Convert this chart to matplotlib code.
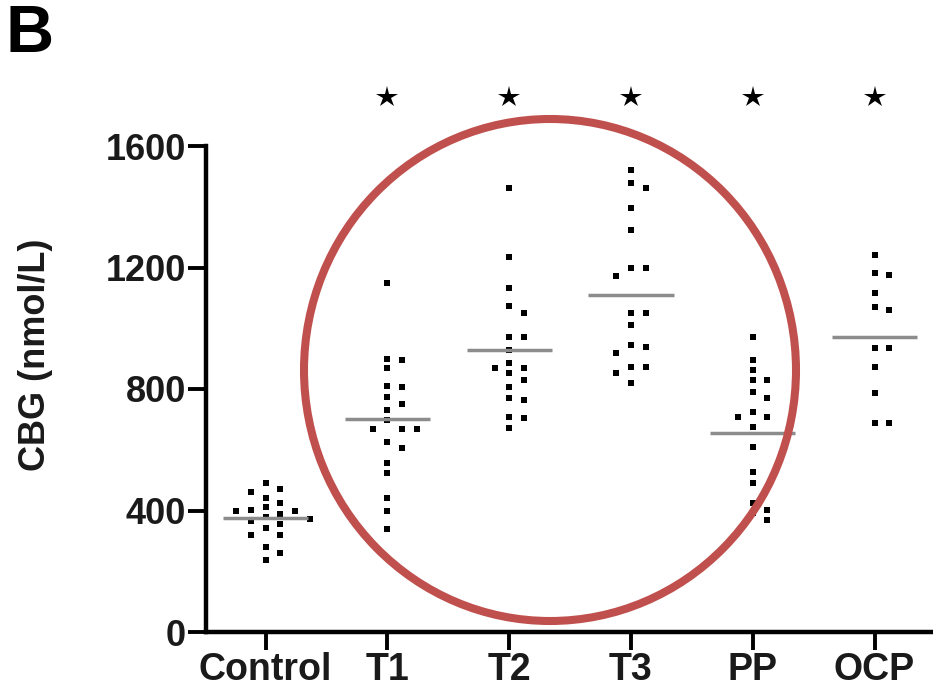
import matplotlib
matplotlib.use("Agg")
import matplotlib.pyplot as plt
from matplotlib.patches import Ellipse
import numpy as np

plt.rcParams['font.family'] = ['Liberation Sans', 'DejaVu Sans']

categories = ["Control", "T1", "T2", "T3", "PP", "OCP"]

control = [490, 470, 461, 441, 425, 410, 401, 400, 398, 390, 380, 372, 365, 355, 342, 320, 318, 280, 260, 237]
t1 = [1150, 900, 895, 870, 810, 805, 775, 750, 730, 697, 668, 668, 668, 625, 605, 555, 525, 440, 400, 340]
t2 = [1461, 1234, 1132, 1073, 1050, 971, 971, 928, 885, 869, 869, 852, 829, 806, 770, 764, 708, 704, 671]
t3 = [1521, 1478, 1461, 1396, 1323, 1198, 1198, 1172, 1050, 1050, 1010, 945, 938, 918, 872, 872, 852, 820]
pp = [971, 895, 862, 829, 829, 790, 770, 724, 708, 708, 675, 609, 527, 490, 425, 402, 392, 369]
ocp = [1241, 1182, 1175, 1116, 1070, 1060, 935, 935, 872, 787, 688, 688]
groups = [control, t1, t2, t3, pp, ocp]

means = [375, 700, 928, 1109, 655, 971]
signif = [False, True, True, True, True, True]

yticks = [0, 400, 800, 1200, 1600]
ytick_labels = ["0", "400", "800", "1200", "1600"]


def swarm_offsets(vals, step=0.12, thresh=30):
    order = np.argsort(vals)[::-1]
    placed = []
    offs = np.zeros(len(vals))
    cands = [0]
    for k in range(1, 8):
        cands += [k, -k]
    for i in order:
        v = vals[i]
        for c in cands:
            ok = True
            for (pc, pv) in placed:
                if pc == c and abs(pv - v) < thresh:
                    ok = False
                    break
            if ok:
                offs[i] = c * step
                placed.append((c, v))
                break
    return offs


W, H = 933, 691
fig = plt.figure(figsize=(W / 100, H / 100), dpi=100)
ax = fig.add_axes([206 / W, 59 / H, (933 - 206) / W, (632 - 146) / H])
ax.set_xlim(-0.49, 5.48)
ax.set_ylim(0, 1600)

txt_color = '#1a1a1a'
for i, vals in enumerate(groups):
    vals = np.array(vals, dtype=float)
    offs = swarm_offsets(vals)
    ax.plot(i + offs, vals, 's', color='black', ms=4.3, mew=0, zorder=3, clip_on=False)
    ax.plot([i - 0.35, i + 0.35], [means[i], means[i]], color='#8c8c8c', lw=2.5, zorder=4,
            solid_capstyle='butt')
    if signif[i]:
        ax.plot([i], [1762], marker='*', color='black', ms=16, clip_on=False, mew=0)

for s in ['top', 'right']:
    ax.spines[s].set_visible(False)
for s in ['left', 'bottom']:
    ax.spines[s].set_linewidth(3.2)
    ax.spines[s].set_color('black')

ax.set_xticks(range(len(categories)))
ax.set_xticklabels(categories, fontsize=27, fontweight='bold', color=txt_color)
ax.set_yticks(yticks)
ax.set_yticklabels(ytick_labels, fontsize=26, fontweight='bold', color=txt_color)
ax.tick_params(axis='both', length=13, width=2.8, direction='out', pad=1.5)

fig.text(36 / W, 1 - 355 / H, 'CBG (nmol/L)', rotation=90, ha='center', va='center',
         fontsize=26, fontweight='bold', color=txt_color)
fig.text(6 / W, 1 - 52 / H, 'B', ha='left', va='baseline', fontsize=48, fontweight='bold',
         color='black')

ell = Ellipse((550 / W, 1 - 370 / H), 492 / W, 502 / H, transform=fig.transFigure,
              fill=False, edgecolor='#c0504d', lw=5.8, zorder=10)
fig.patches.append(ell)

fig.savefig('out.png', dpi=100)
